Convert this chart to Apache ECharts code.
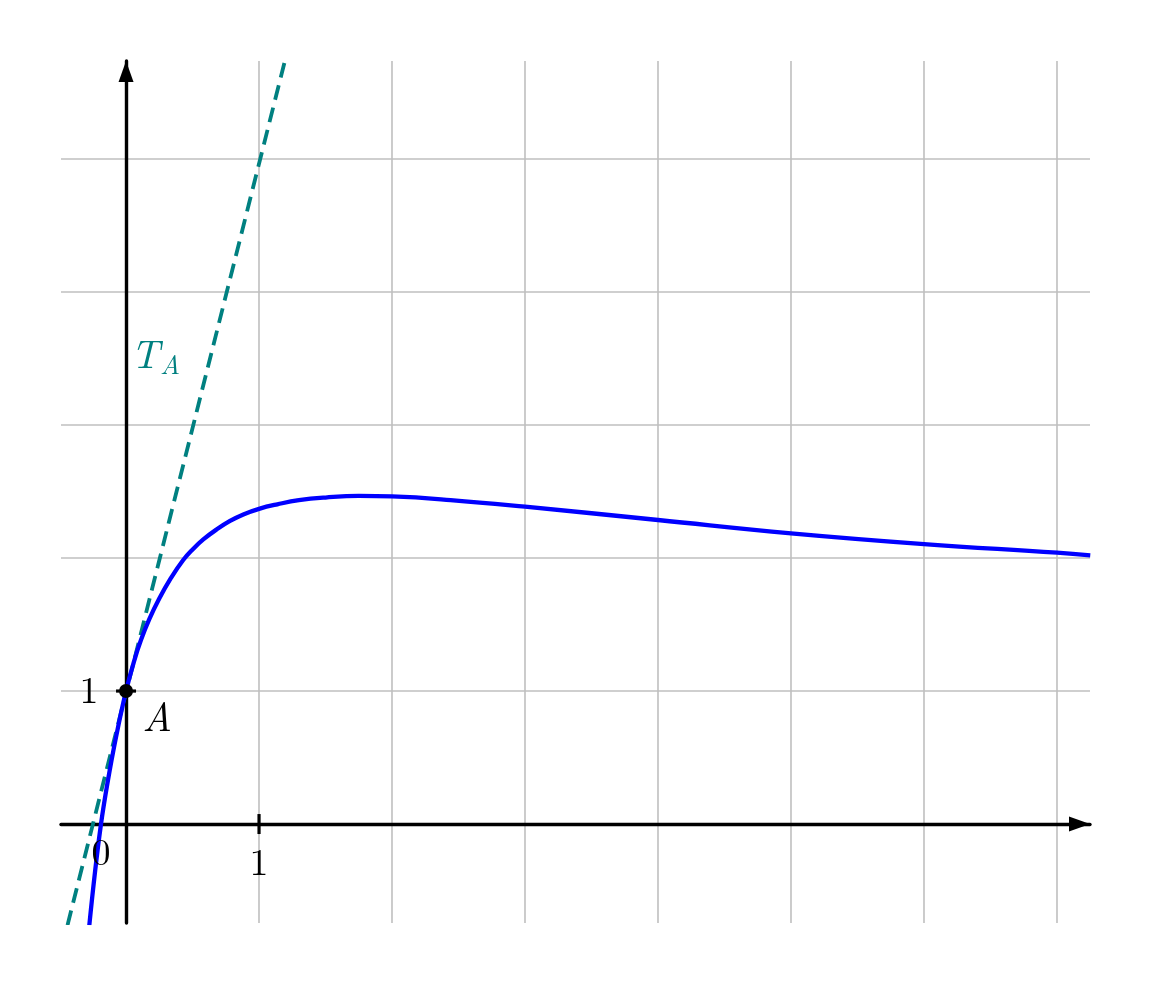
<!DOCTYPE html>
<html><head><meta charset="utf-8">
<script src="https://cdn.jsdelivr.net/npm/echarts@6/dist/echarts.min.js"></script>
<style>html,body{margin:0;padding:0;background:#fff}#c{width:1152px;height:986px}</style>
</head><body><div id="c"></div>
<script>
// curve values
const curveX = [-0.276, -0.232, -0.19, -0.14, -0.075, 0, 0.063, 0.113, 0.175, 0.25, 0.338, 0.43, 0.506, 0.581, 0.681, 0.782, 0.882, 1.0, 1.138, 1.3, 1.5, 1.75, 2.0, 2.44, 3, 4, 5, 6, 7, 7.25];
const curveY = [-0.76, -0.35, -0.012, 0.305, 0.655, 1, 1.233, 1.385, 1.54, 1.695, 1.85, 1.985, 2.07, 2.14, 2.215, 2.279, 2.328, 2.37, 2.404, 2.435, 2.455, 2.467, 2.463, 2.436, 2.386, 2.286, 2.186, 2.105, 2.04, 2.02];
// tangent T_A end points
const tangentX = [-0.44, 1.2];
const tangentY = [-0.76, 5.76];
// grid lines
const gridX = [1, 2, 3, 4, 5, 6, 7];
const gridY = [1, 2, 3, 4, 5];
// tick marks
const xTickValues = [1];
const yTickValues = [1];
// tick labels
const xTickLabelValues = [0, 1];
const xTickLabels = ['0', '1'];
const yTickLabelValues = [1];
const yTickLabels = ['1'];
// point A
const pointA = [0, 1];
const pointALabel = 'A';
// tangent label
const tangentMain = 'T';
const tangentSub = 'A';
const tangentLabelAt = [0.24, 3.52];
// axis ranges
const xMin = -0.489, xMax = 7.248, yMin = -0.744, yMax = 5.737;

const SERIF = "'Latin Modern Roman','Liberation Serif','DejaVu Serif',serif";
const zip = (a, b) => a.map((v, i) => [v, b[i]]);

const chart = echarts.init(document.getElementById('c'), null, {renderer: 'canvas'});

function axisCommon(min, max) {
  return {
    type: 'value', min: min, max: max, z: 5,
    axisLine: {show: true, onZero: true, lineStyle: {color: '#000', width: 3.4},
      symbol: ['none', 'triangle'], symbolSize: [15, 21], symbolOffset: [0, -10.5]},
    axisTick: {show: false}, axisLabel: {show: false}, splitLine: {show: false}
  };
}

const labelBase = {
  show: true, position: 'inside', align: 'center', verticalAlign: 'middle',
  fontFamily: SERIF, fontSize: 38, color: '#000', opacity: 1
};
const solidBlack = {color: '#000', opacity: 1};
const hidden = {color: 'rgba(0,0,0,0)', opacity: 1};

chart.setOption({
  animation: false,
  backgroundColor: '#fff',
  grid: {left: 61, right: 62, top: 61, bottom: 63, containLabel: false},
  xAxis: axisCommon(xMin, xMax),
  yAxis: axisCommon(yMin, yMax),
  series: [
    {
      type: 'line', data: [], z: 1, silent: true,
      markLine: {
        silent: true, symbol: ['none', 'none'], label: {show: false},
        lineStyle: {color: '#bfbfbf', width: 1.6, type: 'solid', opacity: 1},
        emphasis: {disabled: true},
        data: gridX.map(v => ({xAxis: v})).concat(gridY.map(v => ({yAxis: v})))
      }
    },
    {
      type: 'line', data: zip(tangentX, tangentY), z: 6, showSymbol: false, clip: true, silent: true,
      lineStyle: {color: '#008080', width: 3.8, type: [15, 8], opacity: 1}
    },
    {
      type: 'line', data: zip(curveX, curveY), z: 7, showSymbol: false, clip: true, silent: true,
      smooth: 0.45,
      lineStyle: {color: '#0000ff', width: 4.3, opacity: 1}
    },
    {
      type: 'scatter', z: 8, silent: true, symbol: 'rect', symbolSize: [3.2, 20],
      itemStyle: solidBlack,
      data: xTickValues.map(v => [v, 0])
    },
    {
      type: 'scatter', z: 8, silent: true, symbol: 'rect', symbolSize: [20, 3.2],
      itemStyle: solidBlack,
      data: yTickValues.map(v => [0, v])
    },
    {
      type: 'scatter', z: 9, silent: true, symbol: 'circle', symbolSize: 14,
      itemStyle: solidBlack,
      label: Object.assign({}, labelBase, {fontStyle: 'italic', fontSize: 40, offset: [31, 28], formatter: pointALabel}),
      data: [pointA]
    },
    {
      type: 'scatter', z: 9, silent: true, symbolSize: 1, itemStyle: hidden,
      data: xTickLabelValues.map((v, i) => ({
        value: [v, 0],
        label: Object.assign({}, labelBase, {
          formatter: xTickLabels[i],
          offset: v === 0 ? [-25, 29] : [0, 39]
        })
      })).concat(yTickLabelValues.map((v, i) => ({
        value: [0, v],
        label: Object.assign({}, labelBase, {formatter: yTickLabels[i], offset: [-37, 0]})
      })))
    },
    {
      type: 'scatter', z: 9, silent: true, symbolSize: 1, itemStyle: hidden,
      data: [
        {value: tangentLabelAt, label: Object.assign({}, labelBase, {formatter: tangentMain, fontStyle: 'italic', color: '#008080', fontSize: 40, offset: [-13, 0]})},
        {value: tangentLabelAt, label: Object.assign({}, labelBase, {formatter: tangentSub, fontStyle: 'italic', color: '#008080', fontSize: 27, offset: [12, 10]})}
      ]
    }
  ]
});
</script>
</body></html>
